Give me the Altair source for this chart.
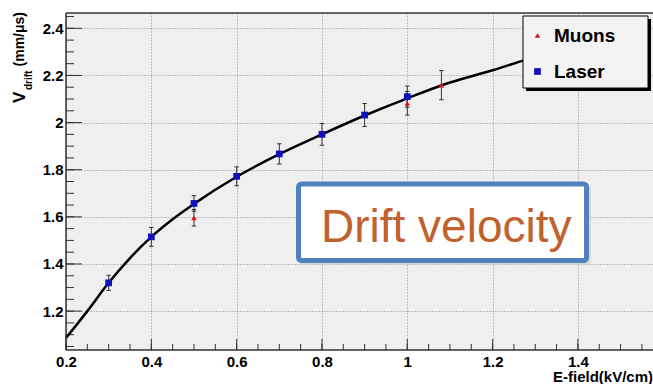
import altair as alt
import pandas as pd

# ---------------- data ----------------
laser_x = [0.3, 0.4, 0.5, 0.6, 0.7, 0.8, 0.9, 1.0]
laser_y = [1.320, 1.515, 1.657, 1.772, 1.867, 1.950, 2.032, 2.110]
laser_err = [0.032, 0.040, 0.033, 0.040, 0.043, 0.046, 0.049, 0.045]

muon_x = [0.5, 1.0, 1.08]
muon_y = [1.596, 2.082, 2.159]
muon_err = [0.035, 0.050, 0.062]

fit_x = [0.2, 0.25, 0.3, 0.35, 0.4, 0.45, 0.5, 0.6, 0.7, 0.8, 0.9, 1.0, 1.1, 1.2, 1.27, 1.35, 1.45, 1.55]
fit_y = [1.086, 1.200, 1.320, 1.425, 1.515, 1.590, 1.655, 1.770, 1.866, 1.950, 2.030, 2.103, 2.170, 2.222, 2.262, 2.300, 2.350, 2.395]

series_names = ["Muons", "Laser"]
series_colors = ["#dd1111", "#1010b8"]
series_shapes = ["triangle-up", "square"]

x_labels = [0.2, 0.4, 0.6, 0.8, 1.0, 1.2, 1.4]
y_labels = [1.2, 1.4, 1.6, 1.8, 2.0, 2.2, 2.4]
x_minor = [round(0.2 + 0.05 * i, 2) for i in range(28)]
y_minor = [round(1.05 + 0.05 * i, 2) for i in range(29)]

x_title = "E-field(kV/cm)"
y_title_parts = ["V", "drift", "(mm/\u03bcs)"]
annotation = "Drift velocity"

# ---------------- frames ----------------
pts = pd.concat([
    pd.DataFrame({"x": laser_x, "y": laser_y, "err": laser_err, "series": "Laser"}),
    pd.DataFrame({"x": muon_x, "y": muon_y, "err": muon_err, "series": "Muons"}),
])
pts["lo"] = pts["y"] - pts["err"]
pts["hi"] = pts["y"] + pts["err"]
fit = pd.DataFrame({"x": fit_x, "y": fit_y})
one = pd.DataFrame({"a": [0]})

W, H = 587, 337
FONT = "Liberation Sans"

xs = alt.Scale(domain=[0.2, 1.576], nice=False, zero=False)
ys = alt.Scale(domain=[1.035, 2.465], nice=False, zero=False)
xaxis = alt.Axis(values=x_labels, format="~g", grid=True, ticks=False, domain=False,
                 labelPadding=4, labelBaseline="top", labelFlush=False, labelOverlap=False, title=None)
yaxis = alt.Axis(values=y_labels, format="~g", grid=True, ticks=False, domain=False,
                 labelPadding=3, labelFlush=False, labelOverlap=False, title=None)


def X(f):
    return alt.X(f, type="quantitative", scale=xs, axis=xaxis, title=None)


def Y(f):
    return alt.Y(f, type="quantitative", scale=ys, axis=yaxis, title=None)


legend = alt.Legend(orient="none", legendX=462, legendY=13, title=None, padding=0,
                    rowPadding=16, labelOffset=7, symbolSize=40, labelFont=FONT,
                    labelFontWeight="bold", labelFontSize=19, labelColor="black",
                    symbolStrokeWidth=0)
color = alt.Color("series:N", scale=alt.Scale(domain=series_names, range=series_colors), legend=legend)
shape = alt.Shape("series:N", scale=alt.Scale(domain=series_names, range=series_shapes), legend=legend)
size = alt.Size("series:N", scale=alt.Scale(domain=series_names, range=[30, 45]), legend=None)

# ticks (ROOT style, inward)
ymin_t = alt.Chart(pd.DataFrame({"v": y_minor})).mark_rule(color="#333", strokeWidth=1).encode(
    y=Y("v"), x=alt.value(0), x2=alt.value(8))
ymaj_t = alt.Chart(pd.DataFrame({"v": y_labels})).mark_rule(color="#333", strokeWidth=1).encode(
    y=Y("v"), x=alt.value(0), x2=alt.value(16))
xmin_t = alt.Chart(pd.DataFrame({"v": x_minor})).mark_rule(color="#333", strokeWidth=1).encode(
    x=X("v"), y=alt.value(H), y2=alt.value(H - 6))
xmaj_t = alt.Chart(pd.DataFrame({"v": x_labels})).mark_rule(color="#333", strokeWidth=1).encode(
    x=X("v"), y=alt.value(H), y2=alt.value(H - 11))

frame_top = alt.Chart(one).mark_rule(color="#333", strokeWidth=1.5).encode(
    x=alt.value(0), x2=alt.value(W), y=alt.value(0))
frame_left = alt.Chart(one).mark_rule(color="#333", strokeWidth=1.5).encode(
    x=alt.value(0), y=alt.value(0), y2=alt.value(H))
frame_bot = alt.Chart(one).mark_rule(color="#333", strokeWidth=1.5).encode(
    x=alt.value(0), x2=alt.value(W), y=alt.value(H))

curve = alt.Chart(fit).mark_line(color="black", strokeWidth=2.5, interpolate="monotone").encode(
    x=X("x"), y=Y("y"))

err = alt.Chart(pts).mark_rule(color="#333", strokeWidth=1).encode(x=X("x"), y=Y("lo"), y2="hi")
cap_lo = alt.Chart(pts).mark_point(shape="M -1 0 L 1 0", size=20, filled=False, color="#333",
                                   strokeWidth=1, opacity=1).encode(x=X("x"), y=Y("lo"))
cap_hi = alt.Chart(pts).mark_point(shape="M -1 0 L 1 0", size=20, filled=False, color="#333",
                                   strokeWidth=1, opacity=1).encode(x=X("x"), y=Y("hi"))
markers = alt.Chart(pts).mark_point(filled=True, opacity=1, strokeWidth=0).encode(
    x=X("x"), y=Y("y"), color=color, shape=shape, size=size)

# annotation box
box_shadow = alt.Chart(one).mark_rect(color="#cfcfcf", opacity=0.7, cornerRadius=4).encode(
    x=alt.value(234), x2=alt.value(525), y=alt.value(172), y2=alt.value(252))
box = alt.Chart(one).mark_rect(fill="white", stroke="#4f81bd", strokeWidth=5, cornerRadius=3).encode(
    x=alt.value(232.5), x2=alt.value(520.5), y=alt.value(171), y2=alt.value(247.5))
box_text = alt.Chart(pd.DataFrame({"t": [annotation]})).mark_text(
    font=FONT, fontSize=46, color="#c0622d", align="left", baseline="alphabetic").encode(
    text="t:N", x=alt.value(255), y=alt.value(229))

# legend box
leg_shadow = alt.Chart(one).mark_rect(color="black").encode(
    x=alt.value(460), x2=alt.value(585), y=alt.value(6), y2=alt.value(78))
leg_box = alt.Chart(one).mark_rect(fill="#f3f3f3", stroke="black", strokeWidth=1).encode(
    x=alt.value(457), x2=alt.value(582), y=alt.value(3), y2=alt.value(75))

# titles
xt = alt.Chart(pd.DataFrame({"t": [x_title]})).mark_text(
    font=FONT, fontSize=15, fontWeight="bold", color="black", align="right", baseline="alphabetic").encode(
    text="t:N", x=alt.value(587), y=alt.value(369))
yt1 = alt.Chart(pd.DataFrame({"t": [y_title_parts[0]]})).mark_text(
    font=FONT, fontSize=17, fontWeight="bold", color="black", angle=270, align="left", baseline="alphabetic").encode(
    text="t:N", x=alt.value(-41), y=alt.value(90))
yt2 = alt.Chart(pd.DataFrame({"t": [y_title_parts[1]]})).mark_text(
    font=FONT, fontSize=10, fontWeight="bold", color="black", angle=270, align="left", baseline="alphabetic").encode(
    text="t:N", x=alt.value(-34), y=alt.value(77))
yt3 = alt.Chart(pd.DataFrame({"t": [y_title_parts[2]]})).mark_text(
    font=FONT, fontSize=14, fontWeight="bold", color="black", angle=270, align="right", baseline="alphabetic").encode(
    text="t:N", x=alt.value(-42), y=alt.value(-1))

chart = alt.layer(
    ymin_t, ymaj_t, xmin_t, xmaj_t, curve, err, cap_lo, cap_hi, markers,
    box_shadow, box, box_text, leg_shadow, leg_box,
    frame_top, frame_left, frame_bot, xt, yt1, yt2, yt3,
).properties(
    width=W, height=H,
    autosize=alt.AutoSizeParams(type="none"),
    padding={"left": 66, "top": 13, "right": 0, "bottom": 34},
    background="white",
).configure_view(
    fill="#efefef", stroke=None,
).configure_axis(
    labelFont=FONT, labelFontWeight="bold", labelFontSize=15, labelColor="black",
    gridColor="#8a8a8a", gridDash=[1, 2], gridWidth=1, gridOpacity=1,
)

chart.save("out.html", embed_options={"renderer": "svg", "actions": False})
